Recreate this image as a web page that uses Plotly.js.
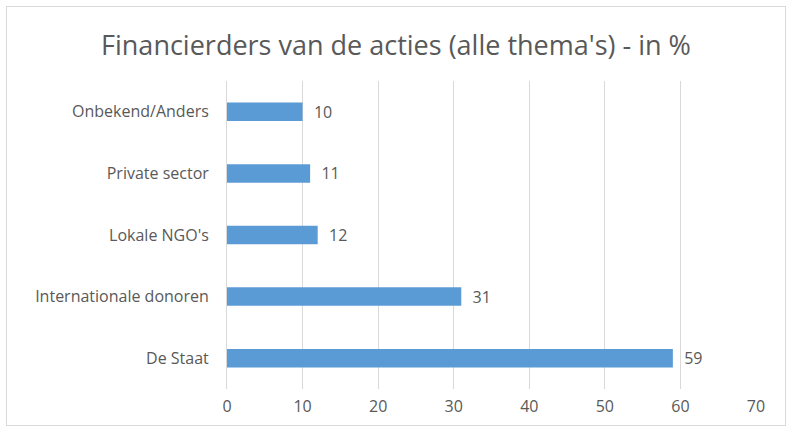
<!DOCTYPE html>
<html><head><meta charset="utf-8">
<script src="https://cdn.plot.ly/plotly-3.0.1.min.js"></script>
<style>
body{margin:0;background:#fff;}
#wrap{position:relative;width:792px;height:432px;}
#chart{position:absolute;left:0;top:0;width:792px;height:432px;}
#frame{position:absolute;left:6px;top:6px;width:778px;height:418px;border:1px solid #d9d9d9;pointer-events:none;}
</style></head>
<body><div id="wrap"><div id="chart"></div><div id="frame"></div></div>
<script>
const categories = ["De Staat", "Internationale donoren", "Lokale NGO's", "Private sector", "Onbekend/Anders"];
const values = [59, 31, 12, 11, 10];
const tickVals = [0, 10, 20, 30, 40, 50, 60, 70];
const font = "Open Sans, sans-serif";
Plotly.newPlot('chart', [{
  type: 'bar', orientation: 'h', y: categories, x: values,
  marker: {color: '#5b9bd5', line: {width: 0}},
  width: 0.3,
  text: values.map(v => '\u00a0\u00a0' + v), textposition: 'outside', cliponaxis: false,
  constraintext: 'none',
  textfont: {family: font, size: 16, color: '#595959'},
  hoverinfo: 'none'
}], {
  width: 792, height: 432,
  margin: {l: 227, r: 36, t: 81, b: 43},
  paper_bgcolor: '#fff', plot_bgcolor: '#fff',
  title: {text: "Financierders van de acties (alle thema's) - in %", x: 0.5, xanchor: 'center', y: 0.895, yanchor: 'middle',
    font: {family: font, size: 27, color: '#595959'}},
  xaxis: {range: [0, 70], tickvals: tickVals, showgrid: true, gridcolor: '#d9d9d9', gridwidth: 1,
    zeroline: false, showline: false, ticks: '', ticklabelstandoff: 6,
    tickfont: {family: font, size: 16, color: '#595959'}},
  yaxis: {showgrid: false, zeroline: false, showline: true, linecolor: '#d9d9d9', ticks: '',
    ticklabelstandoff: 14,
    tickfont: {family: font, size: 16, color: '#595959'}},
  showlegend: false, bargap: 0.7
}, {displayModeBar: false, staticPlot: true});
</script></body></html>
